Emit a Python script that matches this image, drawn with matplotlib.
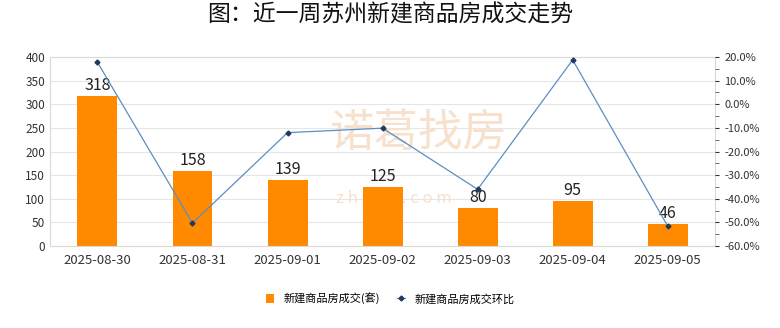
import numpy as np
import matplotlib.pyplot as plt
from matplotlib.ticker import MultipleLocator, FuncFormatter

plt.rcParams['font.family'] = ['Noto Sans CJK SC', 'DejaVu Sans']

# Data
dates = ['2025-08-30', '2025-08-31', '2025-09-01', '2025-09-02',
         '2025-09-03', '2025-09-04', '2025-09-05']
deals = [318, 158, 139, 125, 80, 95, 46]
change_pct = [17.8, -50.3, -12.0, -10.1, -36.0, 18.8, -51.6]

fig = plt.figure(figsize=(7.8, 3.28), dpi=100)
ax = fig.add_axes([0.064, 0.25, 0.853, 0.576])
ax2 = ax.twinx()

x = np.arange(len(dates))
ax.bar(x, deals, width=0.42, color='#ff8a00', zorder=2, label='新建商品房成交(套)')
for xi, v in zip(x, deals):
    ax.text(xi, v + 4, str(v), ha='center', va='bottom', fontsize=11.5,
            color='#222222', zorder=4)

ax.set_ylim(0, 400)
ax.yaxis.set_major_locator(MultipleLocator(50))
ax.set_xlim(-0.5, len(dates) - 0.5)
ax.set_xticks(x)
ax.set_xticklabels(dates)
ax.grid(axis='y', color='#e6e6e6', linewidth=0.8, zorder=0)
ax.set_axisbelow(True)
ax.tick_params(axis='both', length=0, labelsize=8.5, colors='#333333')
ax.tick_params(axis='x', pad=6, labelsize=9.5)
for s in ax.spines.values():
    s.set_color('#d9d9d9')
    s.set_linewidth(0.8)

# faint watermark behind the bars
ax.text(0.42, 0.60, '诺葛找房', transform=ax.transAxes, fontsize=32,
        color='#f7e0cc', ha='left', va='center', zorder=1)
ax.text(0.43, 0.25, 'z h u g e . c o m', transform=ax.transAxes, fontsize=12,
        color='#f7e0cc', ha='left', va='center', zorder=1)

ax2.plot(x, change_pct, color='#5b8ec4', linewidth=0.9, marker='D',
         markersize=2.5, markerfacecolor='#1f3a5c', markeredgecolor='#1f3a5c',
         zorder=3, label='新建商品房成交环比')
ax2.set_ylim(-60, 20)
ax2.yaxis.set_major_locator(MultipleLocator(10))
ax2.yaxis.set_minor_locator(MultipleLocator(5))
ax2.yaxis.set_major_formatter(FuncFormatter(lambda v, p: f'{v:.1f}%'))
ax2.tick_params(axis='y', which='major', length=3, labelsize=8,
                colors='#333333', direction='out')
ax2.tick_params(axis='y', which='minor', length=3, direction='out', color='#555555')
for s in ax2.spines.values():
    s.set_visible(False)

fig.suptitle('图：近一周苏州新建商品房成交走势', fontsize=16.5, y=0.99, color='#111111')

h1, l1 = ax.get_legend_handles_labels()
h2, l2 = ax2.get_legend_handles_labels()
fig.legend(h1 + h2, l1 + l2, loc='center', bbox_to_anchor=(0.5, 0.09), ncol=2,
           frameon=False, fontsize=8, handlelength=0.8, handleheight=0.8,
           columnspacing=1.5)

fig.savefig('out.png', dpi=100)
